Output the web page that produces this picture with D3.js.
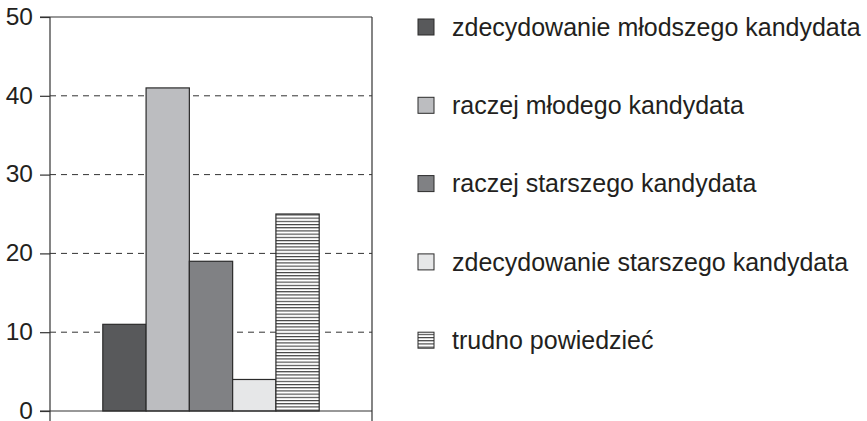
<!DOCTYPE html>
<html>
<head>
<meta charset="utf-8">
<script src="https://cdn.jsdelivr.net/npm/d3@7"></script>
<style>
  body { margin: 0; background: #fff; }
  text { font-family: "Liberation Sans", Arial, sans-serif; fill: #231f20; }
</style>
</head>
<body>
<div id="chart"></div>
<script>
// data
var categories = ["zdecydowanie młodszego kandydata", "raczej młodego kandydata",
  "raczej starszego kandydata", "zdecydowanie starszego kandydata", "trudno powiedzieć"];
var values = [11, 41, 19, 4, 25];
var fills = ["#58595b", "#bcbdc0", "#808184", "#e6e7e8", "url(#hatch)"];
var yTicks = [0, 10, 20, 30, 40, 50];

var width = 867, height = 421;
var plot = {left: 50, right: 372, top: 17, bottom: 411};

var svg = d3.select("#chart").append("svg")
  .attr("width", width)
  .attr("height", height);

// horizontal hatch for the last bar
var pat = svg.append("defs").append("pattern")
  .attr("id", "hatch")
  .attr("patternUnits", "userSpaceOnUse")
  .attr("width", 8).attr("height", 3.2);
pat.append("rect").attr("width", 8).attr("height", 3.2).attr("fill", "#fff");
pat.append("rect").attr("y", 0).attr("width", 8).attr("height", 1.1).attr("fill", "#3a3a3a");

var x = d3.scaleBand()
  .domain(categories)
  .range([plot.left, plot.right])
  .paddingInner(0)
  .paddingOuter(1.22);

var y = d3.scaleLinear()
  .domain([0, 50])
  .range([plot.bottom, plot.top]);

// dashed grid lines
svg.selectAll(".grid")
  .data(yTicks.filter(function(d) { return d > 0 && d < 50; }))
  .enter().append("line")
  .attr("x1", plot.left).attr("x2", plot.right)
  .attr("y1", function(d) { return y(d); })
  .attr("y2", function(d) { return y(d); })
  .attr("stroke", "#333")
  .attr("stroke-width", 1)
  .attr("stroke-dasharray", "6,5");

// bars
svg.selectAll(".bar")
  .data(values)
  .enter().append("rect")
  .attr("x", function(d, i) { return x(categories[i]); })
  .attr("y", function(d) { return y(d); })
  .attr("width", x.bandwidth())
  .attr("height", function(d) { return y(0) - y(d); })
  .attr("fill", function(d, i) { return fills[i]; })
  .attr("stroke", "#2b2b2b")
  .attr("stroke-width", 1.2);

// frame: top and bottom lines, right vertical
svg.append("line")
  .attr("x1", plot.left - 10).attr("x2", plot.right)
  .attr("y1", y(50)).attr("y2", y(50))
  .attr("stroke", "#333").attr("stroke-width", 1.2);
svg.append("line")
  .attr("x1", plot.left - 10).attr("x2", plot.right)
  .attr("y1", y(0)).attr("y2", y(0))
  .attr("stroke", "#333").attr("stroke-width", 1.2);
svg.append("line")
  .attr("x1", plot.right).attr("x2", plot.right)
  .attr("y1", y(50)).attr("y2", height)
  .attr("stroke", "#333").attr("stroke-width", 1.2);

// y axis
var yAxis = d3.axisLeft(y)
  .tickValues(yTicks)
  .tickSize(10)
  .tickPadding(7);
var gy = svg.append("g")
  .attr("transform", "translate(" + plot.left + ",0)")
  .call(yAxis);
gy.select(".domain").remove();
gy.append("line")
  .attr("x1", 0).attr("x2", 0)
  .attr("y1", y(50)).attr("y2", height)
  .attr("stroke", "#333").attr("stroke-width", 1.2);
gy.selectAll(".tick line").attr("stroke", "#333").attr("stroke-width", 1.2);
gy.selectAll(".tick text")
  .attr("font-size", 24.5)
  .attr("dy", "0.3em")
  .attr("font-family", "Liberation Sans, Arial, sans-serif")
  .attr("fill", "#231f20");

// legend
var legend = svg.selectAll(".legend")
  .data(categories)
  .enter().append("g")
  .attr("transform", function(d, i) { return "translate(418," + (27 + i * 78.3) + ")"; });

legend.append("rect")
  .attr("x", 0).attr("y", -8)
  .attr("width", 16).attr("height", 16)
  .attr("fill", function(d, i) { return fills[i]; })
  .attr("stroke", "#2b2b2b")
  .attr("stroke-width", 1);

legend.append("text")
  .attr("x", 34)
  .attr("y", 0)
  .attr("dy", "0.35em")
  .attr("font-size", 25)
  .text(function(d) { return d; });
</script>
</body>
</html>
